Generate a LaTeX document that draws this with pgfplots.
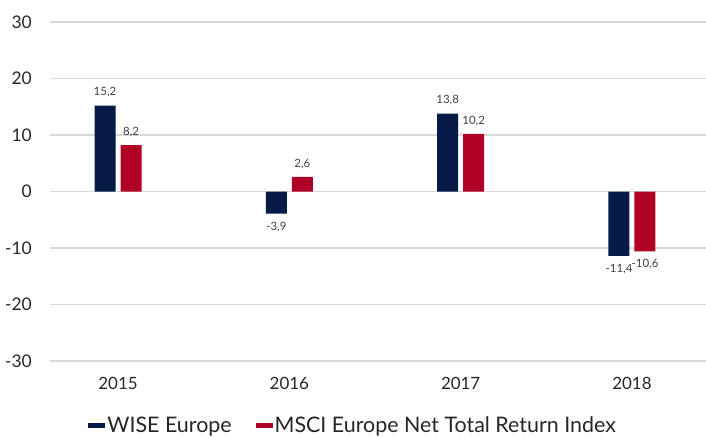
\documentclass[border=0pt]{standalone}
\usepackage{fontspec}
\setmainfont{Lato}
\usepackage{pgfplots}
\pgfplotsset{compat=1.18}
\definecolor{navy}{HTML}{061A47}
\definecolor{crim}{HTML}{B00025}
\definecolor{gridc}{HTML}{D9D9D9}
\definecolor{lab}{HTML}{404040}
\begin{document}
\begin{tikzpicture}
\path[use as bounding box] (-50bp,-77bp) rectangle (656bp,361bp);
\begin{axis}[
 at={(0,0)}, anchor=south west,
 scale only axis, width=656bp, height=339bp,
 xmin=-0.397, xmax=3.432, ymin=-30, ymax=30,
 axis line style={draw=none},
 ytick={-30,-20,...,30},
 xtick={0,1,2,3}, xticklabels={2015,2016,2017,2018},
 major tick length=0pt,
 ymajorgrids, grid style={gridc, line width=1.5bp},
 /pgf/number format/assume math mode=true,
 yticklabel style={font=\fontsize{17.5}{20}\selectfont, text=black!85, anchor=east, inner sep=0pt, xshift=-18bp},
 xticklabel style={font=\fontsize{17}{20}\selectfont, text=black!85, anchor=north, inner sep=0pt, yshift=-16bp},
 ybar, bar width=21bp,
 nodes near coords,
 nodes near coords style={font=\fontsize{11.5}{13}\selectfont, text=lab, inner ysep=8bp, inner xsep=0pt,
   /pgf/number format/.cd, use comma, fixed, precision=1, fixed zerofill, assume math mode=true},
 legend columns=2,
 legend style={draw=none, fill=none, at={(rel axis cs:0.462,0)}, yshift=-64bp, anchor=center,
   font=\fontsize{21.5}{24}\selectfont, text=black!85, inner sep=0pt,
   /tikz/every even column/.append style={column sep=22bp}},
 legend cell align=left,
]
\addplot[fill=navy, draw=none, bar shift=-13bp,
  legend image code/.code={\fill[navy] (0bp,-2.5bp) rectangle (17bp,2.5bp);}]
  coordinates {(0,15.2) (1,-3.9) (2,13.8) (3,-11.4)};
\addlegendentry{WISE Europe}
\addplot[fill=crim, draw=none, bar shift=13bp,
  legend image code/.code={\fill[crim] (0bp,-2.5bp) rectangle (17bp,2.5bp);}]
  coordinates {(0,8.2) (1,2.6) (2,10.2) (3,-10.6)};
\addlegendentry{MSCI Europe Net Total Return Index}
\end{axis}
\end{tikzpicture}
\end{document}
